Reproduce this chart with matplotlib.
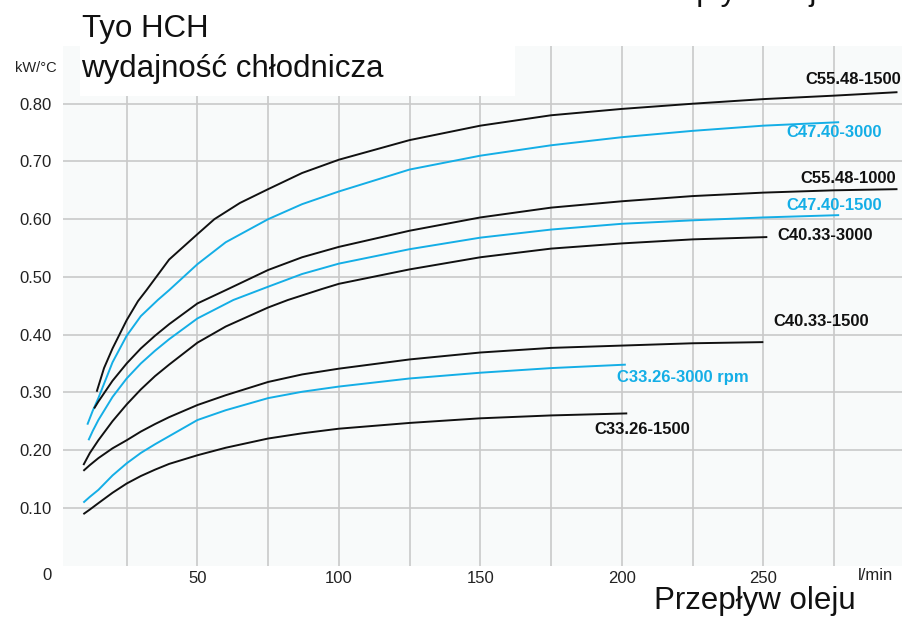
import numpy as np
import matplotlib
matplotlib.use("Agg")
import matplotlib.pyplot as plt
from matplotlib.patches import Rectangle
from matplotlib.transforms import blended_transform_factory

plt.rcParams['font.family'] = ['Liberation Sans', 'DejaVu Sans']

BLACK = '#111111'
BLUE = '#14aee6'

# curves: flow (l/min) -> kW/°C
c5548_1500_x = [14.4, 17, 20, 25, 29, 32, 40, 50, 56, 65, 75, 87, 100, 125, 150, 175, 200, 225, 250, 275, 297.4]
c5548_1500_y = [0.301, 0.342, 0.376, 0.425, 0.458, 0.477, 0.530, 0.574, 0.600, 0.628, 0.652, 0.680, 0.703, 0.737, 0.762, 0.780, 0.791, 0.800, 0.808, 0.814, 0.820]

c4740_3000_x = [11.1, 13, 15, 20, 25, 30, 36, 40, 50, 60, 75, 87, 100, 125, 150, 175, 200, 225, 250, 276.8]
c4740_3000_y = [0.244, 0.268, 0.290, 0.352, 0.398, 0.432, 0.460, 0.477, 0.522, 0.560, 0.600, 0.626, 0.648, 0.686, 0.710, 0.728, 0.742, 0.753, 0.762, 0.768]

c5548_1000_x = [13.5, 15, 20, 25, 30, 35, 40, 50, 60, 75, 87, 100, 125, 150, 175, 200, 225, 250, 275, 297.4]
c5548_1000_y = [0.272, 0.284, 0.320, 0.350, 0.376, 0.398, 0.418, 0.454, 0.477, 0.512, 0.534, 0.552, 0.580, 0.603, 0.620, 0.631, 0.640, 0.646, 0.650, 0.652]

c4740_1500_x = [11.5, 13, 15, 20, 25, 30, 35, 40, 50, 62.7, 75, 87, 100, 125, 150, 175, 200, 225, 250, 276.8]
c4740_1500_y = [0.217, 0.233, 0.252, 0.292, 0.324, 0.350, 0.372, 0.392, 0.428, 0.460, 0.483, 0.505, 0.523, 0.548, 0.568, 0.582, 0.592, 0.598, 0.603, 0.607]

c4033_3000_x = [9.7, 12, 15, 20, 25, 30, 35, 40, 50, 60, 75, 82, 94, 100, 125, 150, 175, 200, 225, 251.4]
c4033_3000_y = [0.174, 0.195, 0.217, 0.250, 0.279, 0.305, 0.328, 0.348, 0.386, 0.414, 0.447, 0.460, 0.479, 0.488, 0.513, 0.534, 0.549, 0.558, 0.565, 0.569]

c4033_1500_x = [9.7, 12, 15, 20, 25, 30, 35, 40, 50, 60, 75, 87, 100, 125, 150, 175, 200, 225, 250]
c4033_1500_y = [0.164, 0.174, 0.186, 0.203, 0.217, 0.232, 0.245, 0.257, 0.278, 0.295, 0.318, 0.331, 0.341, 0.357, 0.369, 0.377, 0.381, 0.385, 0.387]

c3326_3000_x = [9.7, 12, 15, 20, 25, 30, 35, 40, 50, 60, 75, 87, 100, 125, 150, 175, 201.4]
c3326_3000_y = [0.109, 0.119, 0.131, 0.156, 0.177, 0.195, 0.210, 0.224, 0.252, 0.269, 0.290, 0.301, 0.310, 0.324, 0.334, 0.342, 0.348]

c3326_1500_x = [9.7, 12, 15, 20, 25, 30, 35, 40, 50, 60, 75, 87, 100, 125, 150, 175, 201.9]
c3326_1500_y = [0.089, 0.097, 0.108, 0.126, 0.142, 0.155, 0.166, 0.176, 0.191, 0.204, 0.220, 0.229, 0.237, 0.247, 0.255, 0.260, 0.2635]

curves = [
    (c5548_1500_x, c5548_1500_y, BLACK),
    (c4740_3000_x, c4740_3000_y, BLUE),
    (c5548_1000_x, c5548_1000_y, BLACK),
    (c4740_1500_x, c4740_1500_y, BLUE),
    (c4033_3000_x, c4033_3000_y, BLACK),
    (c4033_1500_x, c4033_1500_y, BLACK),
    (c3326_3000_x, c3326_3000_y, BLUE),
    (c3326_1500_x, c3326_1500_y, BLACK),
]

# label text, anchor x, anchor y, alignment, colour
labels = [
    ('C55.48-1500', 298.8, 0.842, 'right', BLACK),
    ('C47.40-3000', 258.0, 0.750, 'left', BLUE),
    ('C55.48-1000', 263.0, 0.671, 'left', BLACK),
    ('C47.40-1500', 258.0, 0.624, 'left', BLUE),
    ('C40.33-3000', 254.8, 0.571, 'left', BLACK),
    ('C40.33-1500', 253.5, 0.422, 'left', BLACK),
    ('C33.26-3000 rpm', 198.4, 0.325, 'left', BLUE),
    ('C33.26-1500', 190.4, 0.236, 'left', BLACK),
]

x_grid = np.arange(25, 300, 25)
x_ticklabels = ['' if v % 50 else str(v) for v in x_grid]
y_grid = np.arange(1, 9) / 10
y_ticklabels = ['%.2f' % v for v in y_grid]

fig = plt.figure(figsize=(9.05, 6.17), dpi=100)
ax = fig.add_axes([63 / 905, 1 - 565.5 / 617, (902 - 63) / 905, (565.5 - 46) / 617])
ax.set_facecolor('#f8fafa')

for xs, ys, col in curves:
    ax.plot(xs, ys, color=col, lw=1.4, solid_capstyle='butt', solid_joinstyle='round', zorder=3)

for txt, x, y, ha, col in labels:
    ax.text(x, y, txt, color=col, ha=ha, va='center', fontsize=12, fontweight='bold', zorder=4)

ax.set_xlim(2.5, 299)
ax.set_ylim(0, 0.9)
ax.set_xticks(x_grid)
ax.set_xticklabels(x_ticklabels, fontsize=12, color='#222222')
ax.set_yticks(y_grid)
ax.set_yticklabels(y_ticklabels, fontsize=12, color='#222222')
ax.tick_params(axis='both', length=0)
ax.tick_params(axis='y', pad=8)
ax.tick_params(axis='x', pad=4)
ax.grid(True, color='#c9c9c9', lw=1.2, zorder=1)
ax.set_axisbelow(True)
for s in ax.spines.values():
    s.set_visible(False)

trans = blended_transform_factory(ax.transData, fig.transFigure)
ax.text(289.5, 1 - 576 / 617, 'l/min', transform=trans, ha='center', va='center', fontsize=12, color='#222222')
fig.text(47 / 905, 1 - 576 / 617, '0', ha='center', va='center', fontsize=12, color='#222222')
fig.text(57 / 905, 1 - 68 / 617, 'kW/°C', ha='right', va='center', fontsize=10.5, color='#222222')

# white title block over the top of the plot
fig.patches.append(Rectangle((80 / 905, 1 - 96 / 617), 435 / 905, 96 / 617, transform=fig.transFigure,
                             facecolor='white', edgecolor='none', zorder=5))
fig.text(82 / 905, 1 - 37 / 617, 'Tyo HCH', ha='left', va='baseline', fontsize=22.5, color='#111111', zorder=6)
fig.text(81 / 905, 1 - 77 / 617, 'wydajność chłodnicza', ha='left', va='baseline', fontsize=22.5, color='#111111', zorder=6)

fig.text(654 / 905, 1 - 609 / 617, 'Przepływ oleju', ha='left', va='baseline', fontsize=22.5, color='#111111')
# the same caption repeated above the top edge, only its descenders show
fig.text(632 / 905, 1.0, 'Przepływ oleju', ha='left', va='baseline', fontsize=22.5, color='#111111')

fig.savefig('out.png', dpi=100, facecolor='white')
